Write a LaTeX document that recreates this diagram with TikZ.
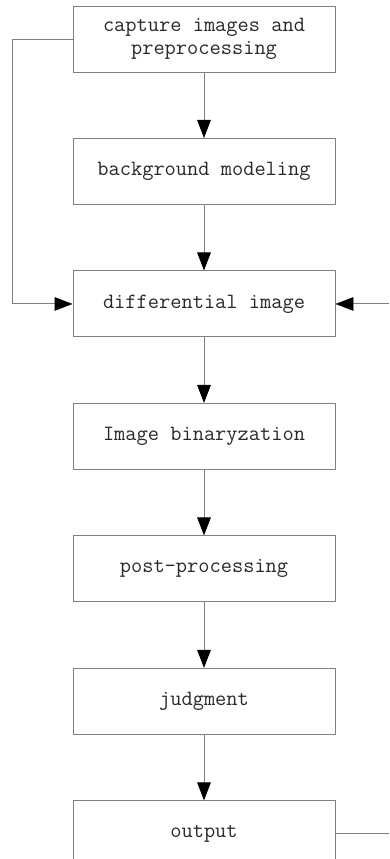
\documentclass[tikz,border=0pt]{standalone}
\usetikzlibrary{arrows.meta, positioning}
\definecolor{linegray}{RGB}{128,128,128}
\definecolor{textgray}{RGB}{40,40,40}
\tikzset{
  procbox/.style={rectangle, draw=linegray, line width=0.7pt,
    minimum width=6.55cm, minimum height=1.65cm, inner sep=0pt,
    align=center, text=textgray,
    font=\ttfamily\fontsize{15.5}{16.4}\selectfont},
  flow/.style={-{Triangle[length=0.45cm, width=0.34cm, color=black]},
    draw=linegray, line width=0.7pt},
  wire/.style={draw=linegray, line width=0.7pt},
}
\begin{document}
\begin{tikzpicture}[node distance=1.6375cm]
  \useasboundingbox (0,0) rectangle (9.725,-21.475);
  \clip (0,0) rectangle (9.725,-21.475);

  \node[procbox] (capture) at (5.1,-0.975) {capture images and\\preprocessing};
  \node[procbox, below=of capture] (bgmodel) {background modeling};
  \node[procbox, below=of bgmodel] (diff) {differential image};
  \node[procbox, below=of diff] (binary) {Image binaryzation};
  \node[procbox, below=of binary] (postproc) {post-processing};
  \node[procbox, below=of postproc] (judge) {judgment};
  \node[procbox, below=of judge] (output) {output};

  \coordinate (loopL) at (0.3,0);
  \coordinate (frameR) at (9.725,0);

  % main chain
  \foreach \a/\b in {capture/bgmodel, bgmodel/diff, diff/binary,
                     binary/postproc, postproc/judge, judge/output}
    \draw[flow] (\a) -- (\b);

  % feedback lines
  \draw[flow] (capture.west) -- (capture.west -| loopL) |- (diff.west);
  \draw[flow] (diff.east -| frameR) -- (diff.east);
  \draw[wire] (output.east) -- (output.east -| frameR);
\end{tikzpicture}
\end{document}
